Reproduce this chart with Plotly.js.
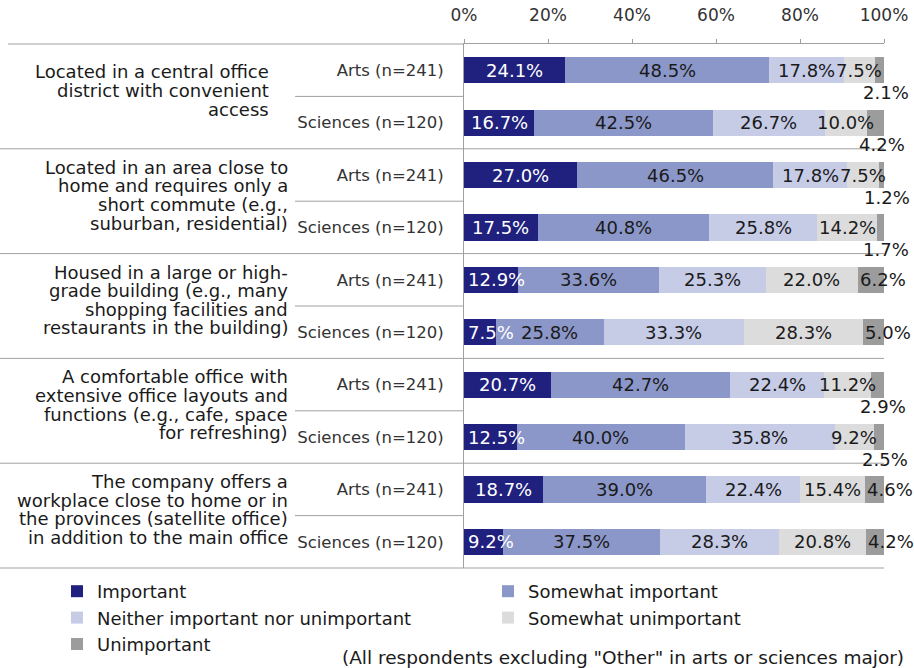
<!DOCTYPE html>
<html><head><meta charset="utf-8">
<script src="https://cdn.plot.ly/plotly-3.0.1.min.js"></script>
<style>html,body{margin:0;padding:0;background:#fff}#chart{width:914px;height:668px}</style>
</head><body><div id="chart"></div>
<script>
// ---- data ----
const groups = [
  ["Located in a central office", "district with convenient", "access"],
  ["Located in an area close to", "home and requires only a", "short commute (e.g.,", "suburban, residential)"],
  ["Housed in a large or high-", "grade building (e.g., many", "shopping facilities and", "restaurants in the building)"],
  ["A comfortable office with", "extensive office layouts and", "functions (e.g., cafe, space", "for refreshing)"],
  ["The company offers a", "workplace close to home or in", "the provinces (satellite office)", "in addition to the main office"]
];
const majors = ["Arts (n=241)", "Sciences (n=120)"];
const seriesNames = ["Important", "Somewhat important", "Neither important nor unimportant", "Somewhat unimportant", "Unimportant"];
const important          = [24.1, 16.7, 27.0, 17.5, 12.9, 7.5, 20.7, 12.5, 18.7, 9.2];
const somewhatImportant  = [48.5, 42.5, 46.5, 40.8, 33.6, 25.8, 42.7, 40.0, 39.0, 37.5];
const neither            = [17.8, 26.7, 17.8, 25.8, 25.3, 33.3, 22.4, 35.8, 22.4, 28.3];
const somewhatUnimportant= [7.5, 10.0, 7.5, 14.2, 22.0, 28.3, 11.2, 9.2, 15.4, 20.8];
const unimportant        = [2.1, 4.2, 1.2, 1.7, 6.2, 5.0, 2.9, 2.5, 4.6, 4.2];
const xTicks = [0, 20, 40, 60, 80, 100];
const note = '(All respondents excluding "Other" in arts or sciences major)';

// ---- styles ----
const colors = ["#20217f", "#8b97c8", "#c6cbe6", "#dcdcdc", "#9c9c9c"];
const labelColors = ["#ffffff", "#1a1a1a", "#1a1a1a", "#1a1a1a", "#1a1a1a"];
const legendOf = ["legend", "legend2", "legend", "legend2", "legend"];
const lastLabelBelow = [true, true, true, true, false, false, true, true, false, false];
const FONT = "DejaVu Sans, Verdana, sans-serif";
const GRAY = "#a0a0a0";
const L = 464, R = 30, T = 44, B = 100, W = 914, H = 668;
const PW = W - L - R, PH = H - T - B;
const px2paper = p => (p - L) / PW;
const py2paper = p => (H - B - p) / PH;

const series = [important, somewhatImportant, neither, somewhatUnimportant, unimportant];
const nRows = groups.length * majors.length;
const rows = [];
const tickText = [];
for (let r = 0; r < nRows; r++) { rows.push(r); tickText.push(majors[r % majors.length]); }

const traces = series.map((vals, s) => ({
  type: "bar", orientation: "h", name: seriesNames[s], legend: legendOf[s],
  x: vals, y: rows, marker: { color: colors[s] },
  hoverinfo: "skip", textposition: "none"
}));

const annotations = [];
// data labels
const cum = rows.map(() => 0);
series.forEach((vals, s) => {
  vals.forEach((v, r) => {
    const start = cum[r];
    const a = {
      xref: "x", yref: "y", y: r, x: start + v / 2, xanchor: "center", yanchor: "middle",
      text: v.toFixed(1) + "%", showarrow: false,
      font: { family: FONT, size: 18, color: labelColors[s] }
    };
    if (s === 0 && v < 14) { a.x = start; a.xanchor = "left"; a.xshift = 2; }
    if (s === series.length - 1) {
      if (lastLabelBelow[r]) { a.xshift = 6; a.yshift = -22; }
      else { a.x = start; a.xanchor = "left"; }
    }
    annotations.push(a);
    cum[r] += v;
  });
});
// group labels
groups.forEach((lines, g) => {
  const right = g === 0 ? 271 : 290;
  const n = lines.length;
  lines.forEach((t, i) => {
    annotations.push({
      xref: "paper", yref: "y", x: px2paper(right), xanchor: "right",
      y: g * 2 + 0.5, yanchor: "middle", yshift: 6 - (i - (n - 1) / 2) * 18.6,
      text: t, showarrow: false, font: { family: FONT, size: 18, color: "#1a1a1a" }
    });
  });
});
// note
annotations.push({
  xref: "paper", yref: "paper", x: px2paper(906), xanchor: "right",
  y: py2paper(657), yanchor: "middle",
  text: note, showarrow: false, font: { family: FONT, size: 18.5, color: "#1a1a1a" }
});

// separator lines
const shapes = [];
const line = (x0, x1, y) => ({ type: "line", xref: "paper", yref: "paper",
  x0: px2paper(x0), x1: px2paper(x1), y0: y, y1: y, line: { color: GRAY, width: 1 } });
shapes.push(line(8, L, 1));
for (let g = 1; g <= groups.length; g++) shapes.push(line(0, W - R, 1 - g * 2 / nRows));
for (let g = 0; g < groups.length; g++) shapes.push(line(295, L, 1 - (g * 2 + 1) / nRows));

const legendBase = {
  orientation: "v", xanchor: "left", yanchor: "top", y: py2paper(573), traceorder: "normal",
  font: { family: FONT, size: 18, color: "#1a1a1a" }, bgcolor: "rgba(0,0,0,0)", borderwidth: 0
};

const layout = {
  width: W, height: H, margin: { l: L, r: R, t: T, b: B, pad: 0, autoexpand: false },
  paper_bgcolor: "#fff", plot_bgcolor: "#fff",
  barmode: "stack", bargap: 0.5,
  font: { family: FONT, color: "#333" },
  xaxis: {
    side: "top", range: [0, 100], tickvals: xTicks, ticktext: xTicks.map(v => v + "%"),
    ticks: "outside", ticklen: 4, tickcolor: GRAY, showline: true, linecolor: GRAY, linewidth: 1,
    showgrid: false, zeroline: false, tickfont: { family: FONT, size: 17, color: "#333" },
    ticklabelstandoff: 11, fixedrange: true
  },
  yaxis: {
    range: [nRows - 0.5, -0.5], tickvals: rows, ticktext: tickText,
    ticks: "", showline: true, linecolor: GRAY, linewidth: 1, showgrid: false, zeroline: false,
    tickfont: { family: FONT, size: 16.5, color: "#333" }, ticklabelstandoff: 16, fixedrange: true
  },
  showlegend: true,
  legend: Object.assign({}, legendBase, { x: px2paper(57) }),
  legend2: Object.assign({}, legendBase, { x: px2paper(488) }),
  annotations: annotations, shapes: shapes
};
Plotly.newPlot("chart", traces, layout, { displayModeBar: false, staticPlot: true });
</script>
</body></html>
